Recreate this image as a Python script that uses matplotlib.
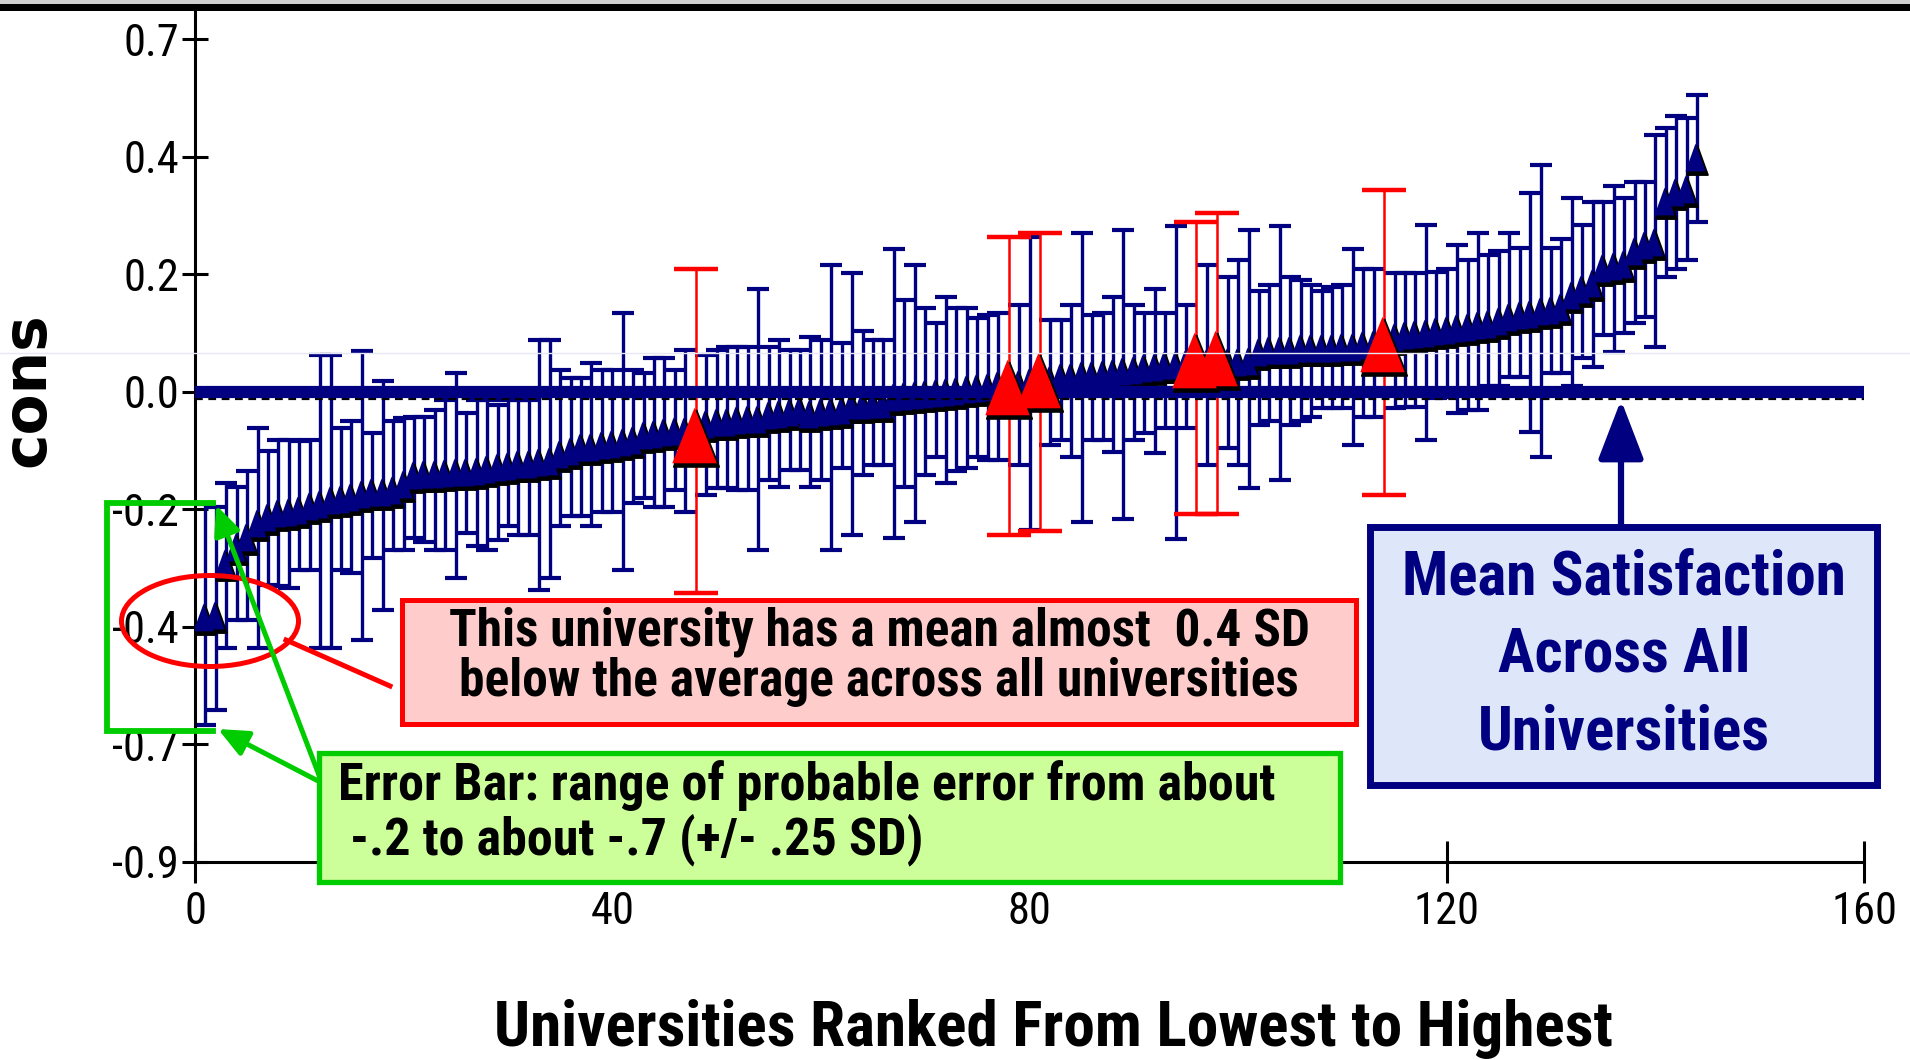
import numpy as np
import matplotlib
matplotlib.use("Agg")
import matplotlib.pyplot as plt
from matplotlib import patches, transforms, font_manager
from matplotlib.lines import Line2D

# ---------------- data ----------------
ranks = list(range(1, 145))
means = [-0.388, -0.385, -0.297, -0.269, -0.252, -0.229, -0.218, -0.212, -0.210, -0.206,
         -0.200, -0.195, -0.189, -0.187, -0.184, -0.178, -0.176, -0.175, -0.172, -0.161,
         -0.147, -0.145, -0.144, -0.143, -0.142, -0.141, -0.139, -0.136, -0.133, -0.132,
         -0.128, -0.127, -0.125, -0.122, -0.110, -0.105, -0.099, -0.098, -0.096, -0.093,
         -0.090, -0.087, -0.079, -0.076, -0.073, -0.072, -0.071, -0.078, -0.059, -0.057,
         -0.056, -0.053, -0.052, -0.051, -0.045, -0.042, -0.039, -0.036, -0.042, -0.040,
         -0.038, -0.036, -0.028, -0.027, -0.026, -0.025, -0.014, -0.012, -0.010, -0.009,
         -0.007, -0.006, -0.003, 0.000, 0.001, 0.003, 0.006, 0.003, 0.009, 0.012,
         0.015, 0.016, 0.020, 0.021, 0.023, 0.024, 0.026, 0.027, 0.030, 0.033,
         0.036, 0.037, 0.040, 0.041, 0.043, 0.050, 0.044, 0.053, 0.045, 0.046,
         0.048, 0.063, 0.066, 0.066, 0.067, 0.069, 0.069, 0.070, 0.070, 0.071,
         0.072, 0.075, 0.076, 0.077, 0.088, 0.091, 0.093, 0.095, 0.098, 0.100,
         0.103, 0.105, 0.109, 0.110, 0.115, 0.122, 0.125, 0.128, 0.132, 0.134,
         0.140, 0.160, 0.170, 0.180, 0.205, 0.210, 0.212, 0.235, 0.245, 0.250,
         0.320, 0.335, 0.340, 0.395]
upper = [-0.190, -0.195, -0.155, -0.161, -0.135, -0.062, -0.101, -0.082, -0.082, -0.084,
         -0.082, 0.063, 0.063, -0.062, -0.050, 0.069, -0.070, 0.018, -0.050, -0.045,
         -0.042, -0.042, -0.031, -0.014, 0.032, -0.036, -0.014, -0.014, -0.022, -0.014,
         -0.014, -0.014, 0.088, 0.088, 0.037, 0.023, 0.023, 0.049, 0.037, 0.037,
         0.135, 0.037, 0.032, 0.057, 0.057, 0.037, 0.071, 0.210, 0.063, 0.071,
         0.077, 0.077, 0.077, 0.176, 0.077, 0.088, 0.071, 0.071, 0.094, 0.088,
         0.216, 0.083, 0.202, 0.103, 0.088, 0.088, 0.243, 0.156, 0.216, 0.142,
         0.117, 0.162, 0.142, 0.142, 0.125, 0.131, 0.134, 0.264, 0.148, 0.264,
         0.270, 0.122, 0.122, 0.148, 0.270, 0.131, 0.134, 0.162, 0.276, 0.148,
         0.134, 0.176, 0.134, 0.282, 0.148, 0.290, 0.216, 0.304, 0.196, 0.224,
         0.276, 0.171, 0.182, 0.282, 0.196, 0.190, 0.182, 0.171, 0.179, 0.182,
         0.244, 0.210, 0.210, 0.344, 0.202, 0.202, 0.202, 0.284, 0.204, 0.210,
         0.250, 0.224, 0.270, 0.233, 0.240, 0.270, 0.245, 0.338, 0.386, 0.245,
         0.260, 0.330, 0.284, 0.323, 0.323, 0.350, 0.330, 0.357, 0.357, 0.437,
         0.450, 0.470, 0.466, 0.505]
lower = [-0.566, -0.542, -0.436, -0.388, -0.388, -0.436, -0.328, -0.331, -0.334, -0.303,
         -0.303, -0.436, -0.436, -0.303, -0.308, -0.422, -0.283, -0.371, -0.269, -0.269,
         -0.249, -0.255, -0.269, -0.269, -0.317, -0.240, -0.263, -0.269, -0.252, -0.229,
         -0.243, -0.243, -0.337, -0.317, -0.229, -0.212, -0.212, -0.229, -0.204, -0.204,
         -0.303, -0.189, -0.181, -0.195, -0.195, -0.167, -0.204, -0.342, -0.175, -0.164,
         -0.164, -0.167, -0.167, -0.269, -0.150, -0.161, -0.133, -0.133, -0.161, -0.150,
         -0.269, -0.130, -0.243, -0.141, -0.124, -0.124, -0.249, -0.161, -0.222, -0.141,
         -0.110, -0.155, -0.135, -0.130, -0.110, -0.116, -0.116, -0.243, -0.124, -0.235,
         -0.236, -0.090, -0.082, -0.110, -0.222, -0.082, -0.082, -0.103, -0.217, -0.082,
         -0.070, -0.104, -0.062, -0.250, -0.062, -0.207, -0.124, -0.207, -0.096, -0.124,
         -0.163, -0.056, -0.050, -0.150, -0.056, -0.050, -0.042, -0.028, -0.028, -0.028,
         -0.090, -0.042, -0.042, -0.176, -0.028, -0.026, -0.026, -0.082, -0.010, -0.008,
         -0.036, -0.030, -0.030, 0.010, 0.010, 0.025, 0.025, -0.068, -0.110, 0.032,
         0.032, 0.010, 0.058, 0.043, 0.097, 0.068, 0.100, 0.117, 0.128, 0.077,
         0.195, 0.210, 0.224, 0.290]
highlighted = [48, 78, 81, 96, 98, 114]
overall_mean = 0.0

xtick_vals = [0, 40, 80, 120, 160]
xtick_labels = ["0", "40", "80", "120", "160"]
ytick_vals = [0.6, 0.4, 0.2, 0.0, -0.2, -0.4, -0.6, -0.8]
ytick_labels = ["0.7", "0.4", "0.2", "0.0", "-0.2", "-0.4", "-0.7", "-0.9"]

xlabel = "Universities Ranked From Lowest to Highest"
ylabel = "cons"
red_text = "This university has a mean almost  0.4 SD\nbelow the average across all universities"
green_text = "Error Bar: range of probable error from about\n -.2 to about -.7 (+/- .25 SD)"
blue_text = "Mean Satisfaction\nAcross All\nUniversities"

# ---------------- fonts ----------------
avail = {f.name for f in font_manager.fontManager.ttflist}
narrow = "DejaVu Sans"
for cand in ["Liberation Sans Narrow", "Roboto Condensed", "Open Sans Condensed", "Liberation Sans"]:
    if cand in avail:
        narrow = cand
        break

NAVY = "#000080"
W, H = 1910, 1060
fig = plt.figure(figsize=(W / 100, H / 100), dpi=100)


def F(x, y):
    return (x / W, 1 - y / H)


ax = fig.add_axes([195 / W, 1 - 862 / H, (1864 - 195) / W, (862 - 10) / H])
ax.set_xlim(0, 160)
ax.set_ylim(-0.8, 0.65)
for s in ["top", "right"]:
    ax.spines[s].set_visible(False)
for s in ["left", "bottom"]:
    ax.spines[s].set_linewidth(2.2)
    ax.spines[s].set_color("black")

ax.set_xticks(xtick_vals)
ax.set_xticklabels(xtick_labels, fontfamily=narrow, fontsize=32)
ax.set_yticks(ytick_vals)
ax.set_yticklabels(ytick_labels, fontfamily=narrow, fontsize=32)
ax.tick_params(axis="x", direction="inout", length=30, width=2.2, pad=6)
ax.tick_params(axis="y", direction="inout", length=19, width=2.2, pad=2)

x = np.array(ranks)
m = np.array(means)
up = np.array(upper)
lo = np.array(lower)
hl = np.isin(x, highlighted)
nm = ~hl

# error bars
ax.errorbar(x[nm], m[nm], yerr=[m[nm] - lo[nm], up[nm] - m[nm]], fmt="none",
            ecolor=NAVY, elinewidth=2.4, capsize=8, capthick=3.0, zorder=2)
ax.errorbar(x[hl], m[hl], yerr=[m[hl] - lo[hl], up[hl] - m[hl]], fmt="none",
            ecolor="#FF0000", elinewidth=1.8, capsize=16, capthick=3.2, zorder=2.5)

# triangles with dark shadow
tri = [(0, 1), (-0.72, -1), (0.72, -1), (0, 1)]
tri_red = [(0, 1), (-0.8, -1), (0.8, -1), (0, 1)]
shift = transforms.offset_copy(ax.transData, fig=fig, x=-2, y=3, units="dots")
ax.plot(x[nm], m[nm], ls="none", marker=tri, ms=21, mfc="black", mec="black", mew=1.2, zorder=3)
ax.plot(x[nm], m[nm], ls="none", marker=tri, ms=20, mfc=NAVY, mec=NAVY, mew=0,
        transform=shift, zorder=3.1)

# mean line
ax.axhline(overall_mean, color=NAVY, lw=8.8, zorder=4, solid_capstyle="butt")
dash_t = transforms.offset_copy(ax.transData, fig=fig, x=0, y=-7, units="dots")
ax.plot([0, 160], [overall_mean, overall_mean], color="black", lw=1.6,
        dashes=(3.5, 2.5), transform=dash_t, zorder=3.9)

# highlighted universities on top
ax.plot(x[hl], m[hl], ls="none", marker=tri_red, ms=41, mfc="black", mec="black", mew=1.2, zorder=5)
ax.plot(x[hl], m[hl], ls="none", marker=tri_red, ms=40, mfc="#FF0000", mec="#FF0000", mew=0,
        transform=shift, zorder=5.1)

# figure decorations: top band and faint line
fig.add_artist(patches.Rectangle((0, 1 - 4 / H), 1, 4 / H, transform=fig.transFigure,
                                 facecolor="#D0D0D0", edgecolor="none"))
fig.add_artist(patches.Rectangle((0, 1 - 11 / H), 1, 7 / H, transform=fig.transFigure,
                                 facecolor="black", edgecolor="none"))
fig.add_artist(Line2D([0, 1], [1 - 353 / H, 1 - 353 / H], transform=fig.transFigure,
                      color="#E6E6F4", lw=1.0, zorder=0.5))

# axis labels
fig.text(*F(1053, 1029), xlabel, ha="center", va="center", fontfamily=narrow,
         fontweight="bold", fontsize=45.5)
fig.text(*F(28, 390), ylabel, ha="center", va="center", rotation=90,
         fontfamily="DejaVu Sans", fontweight="bold", fontsize=43)

# red annotation
fig.add_artist(patches.Ellipse(F(210, 621), 177 / W, 91 / H, transform=fig.transFigure,
                               fill=False, edgecolor="#FF0000", lw=3.6, zorder=6))
fig.add_artist(Line2D([286 / W, 390 / W], [1 - 640 / H, 1 - 686 / H], transform=fig.transFigure,
                      color="#FF0000", lw=3.6, zorder=6))
x0, y0, x1, y1 = 402, 600, 1356, 724
fig.add_artist(patches.Rectangle((x0 / W, 1 - y1 / H), (x1 - x0) / W, (y1 - y0) / H,
                                 transform=fig.transFigure, facecolor="#FFCCCC",
                                 edgecolor="#FF0000", lw=3.6, zorder=6))
fig.text(*F(879, 657), red_text, ha="center", va="center", fontfamily=narrow,
         fontweight="bold", fontsize=37, linespacing=1.0, zorder=7)

# green annotation
GREEN = "#00CC00"
bx = [213 / W, 107 / W, 107 / W, 213 / W]
by = [1 - 503 / H, 1 - 503 / H, 1 - 731 / H, 1 - 731 / H]
fig.add_artist(Line2D(bx, by, transform=fig.transFigure, color=GREEN, lw=4.2, zorder=6,
                      solid_joinstyle="miter"))
for tgt in [(216, 505), (218, 729)]:
    fig.add_artist(patches.FancyArrowPatch(F(322, 783), F(*tgt), transform=fig.transFigure,
                                           arrowstyle="-|>,head_length=0.9,head_width=0.4",
                                           mutation_scale=20, color=GREEN, lw=3.6, zorder=6,
                                           shrinkA=0, shrinkB=0))
x0, y0, x1, y1 = 319, 753, 1340, 882
fig.add_artist(patches.Rectangle((x0 / W, 1 - y1 / H), (x1 - x0) / W, (y1 - y0) / H,
                                 transform=fig.transFigure, facecolor="#CCFF99",
                                 edgecolor=GREEN, lw=3.8, zorder=6))
fig.text(*F(338, 813), green_text, ha="left", va="center", fontfamily=narrow,
         fontweight="bold", fontsize=37.5, linespacing=1.05, zorder=7)

# blue annotation
fig.add_artist(patches.FancyArrowPatch(F(1621, 528), F(1621, 400), transform=fig.transFigure,
                                       arrowstyle="-|>,head_length=1.3,head_width=0.5",
                                       mutation_scale=28, color=NAVY, lw=4.5, zorder=6,
                                       shrinkA=0, shrinkB=0))
x0, y0, x1, y1 = 1370, 527, 1877, 785
fig.add_artist(patches.Rectangle((x0 / W, 1 - y1 / H), (x1 - x0) / W, (y1 - y0) / H,
                                 transform=fig.transFigure, facecolor="#DEE6FA",
                                 edgecolor=NAVY, lw=5.0, zorder=6))
fig.text(*F(1624, 655), blue_text, ha="center", va="center", fontfamily=narrow,
         fontweight="bold", fontsize=44, color=NAVY, linespacing=1.42, zorder=7)

fig.savefig("out.png", dpi=100)
